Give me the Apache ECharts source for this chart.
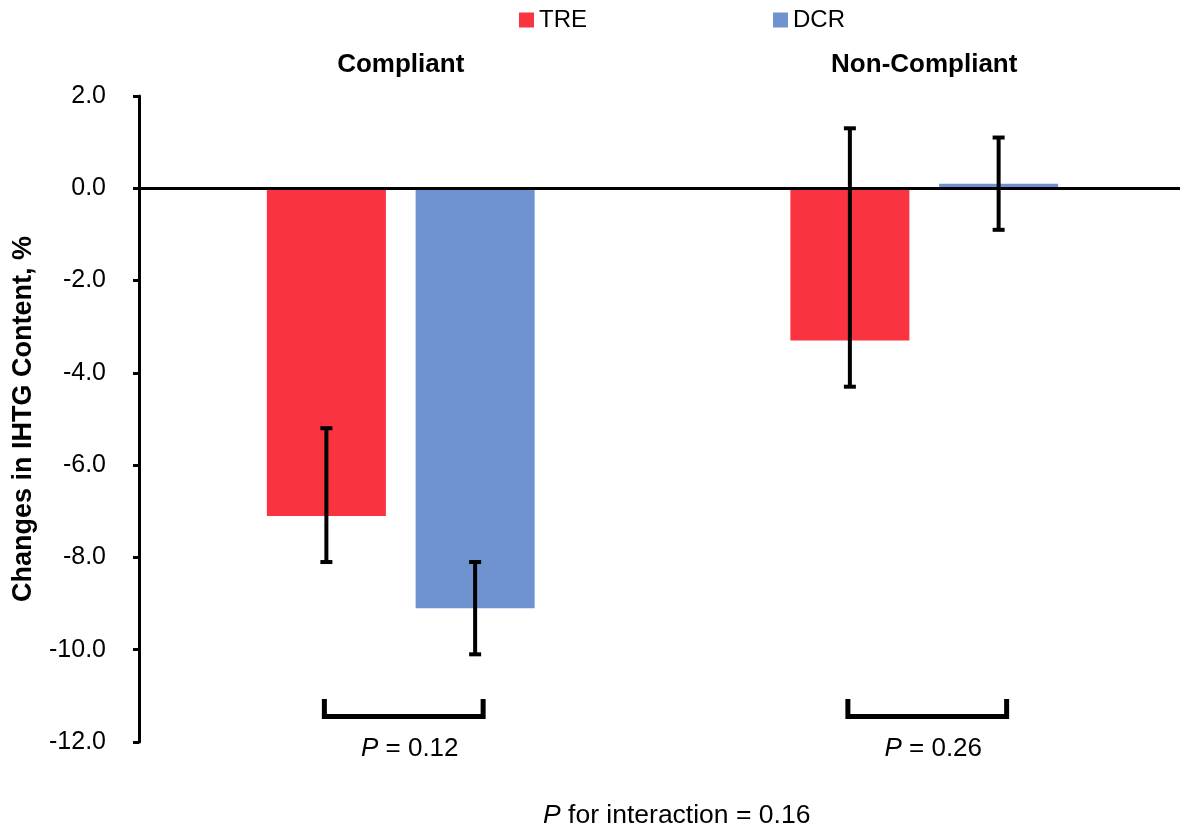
<!DOCTYPE html>
<html><head><meta charset="utf-8">
<script src="https://cdn.jsdelivr.net/npm/echarts@6/dist/echarts.min.js"></script>
<style>html,body{margin:0;padding:0;background:#fff;overflow:hidden}#c{width:1190px;height:831px}</style>
</head><body><div id="c"></div>
<script>
// ---- data ----
const categories = ['Compliant', 'Non-Compliant'];
const seriesNames = ['TRE', 'DCR'];
const treMean = [-7.1, -3.3];
const treLow  = [-8.1, -4.3];
const treHigh = [-5.2, 1.3];
const dcrMean = [-9.1, 0.1];
const dcrLow  = [-10.1, -0.9];
const dcrHigh = [-8.1, 1.1];
const yMin = -12, yMax = 2, yStep = 2;
const pValues = ['0.12', '0.26'];
const bracketLevel = [-11.45, -11.45];
const bracketTickTop = [-11.07, -11.07];
const interactionP = '0.16';

// ---- style ----
const FONT = "'Liberation Sans', Arial, Helvetica, sans-serif";
const RED = '#F9333F';
const BLUE = '#6F93D1';
const BAR_W = 119;
const BAR_GAP = 0.25;
const OFF = BAR_W * (1 + BAR_GAP) / 2;

const chart = echarts.init(document.getElementById('c'), null, {renderer: 'canvas'});

function errRender(sign) {
  return function (params, api) {
    const idx = api.value(0);
    const lo = api.coord([idx, api.value(1)]);
    const hi = api.coord([idx, api.value(2)]);
    const x = lo[0] + sign * OFF;
    const cap = 6;
    const st = {stroke: '#000', lineWidth: 4};
    return {type: 'group', children: [
      {type: 'line', shape: {x1: x, y1: lo[1], x2: x, y2: hi[1]}, style: st},
      {type: 'line', shape: {x1: x - cap, y1: lo[1], x2: x + cap, y2: lo[1]}, style: st},
      {type: 'line', shape: {x1: x - cap, y1: hi[1], x2: x + cap, y2: hi[1]}, style: st}
    ]};
  };
}

function bracketRender(params, api) {
  const idx = api.value(0);
  const base = api.coord([idx, api.value(1)]);
  const top = api.coord([idx, api.value(2)]);
  const x1 = base[0] - OFF - 2;
  const x2 = base[0] + OFF + 8;
  return {type: 'group', children: [
    {type: 'polyline', shape: {points: [[x1, top[1]], [x1, base[1]], [x2, base[1]], [x2, top[1]]]},
     style: {stroke: '#000', lineWidth: 5, fill: null, lineJoin: 'miter'}},
    {type: 'text', x: (x1 + x2) / 2 + 6, y: base[1] + 32,
     style: {text: '{i|P} = ' + pValues[params.dataIndex], align: 'center', verticalAlign: 'middle',
       fill: '#000', font: '26px ' + FONT,
       rich: {i: {fontStyle: 'italic', fontSize: 26, fontFamily: FONT, fill: '#000'}}}}
  ]};
}

const option = {
  backgroundColor: '#fff',
  animation: false,
  textStyle: {fontFamily: FONT, color: '#000'},
  legend: {
    data: seriesNames, left: 514, top: 3, icon: 'rect', itemWidth: 15, itemHeight: 15, itemGap: 186,
    textStyle: {fontSize: 24, color: '#000', fontFamily: FONT}
  },
  grid: {left: 139, top: 96, right: 4, height: 646},
  xAxis: {
    type: 'category', data: categories, position: 'top',
    axisLine: {show: false}, axisTick: {show: false},
    axisLabel: {fontSize: 26, fontWeight: 'bold', color: '#000', margin: 18, fontFamily: FONT}
  },
  yAxis: {
    type: 'value', min: yMin, max: yMax, interval: yStep,
    name: 'Changes in IHTG Content, %', nameLocation: 'middle', nameGap: 102,
    nameTextStyle: {fontSize: 27, fontWeight: 'bold', color: '#000', fontFamily: FONT},
    axisLine: {show: true, lineStyle: {color: '#000', width: 3}},
    axisTick: {show: true, length: 6, lineStyle: {color: '#000', width: 3}},
    splitLine: {show: false},
    axisLabel: {fontSize: 25, color: '#000', margin: 33, fontFamily: FONT, formatter: v => v.toFixed(1)}
  },
  series: [
    {name: 'TRE', type: 'bar', data: treMean, barWidth: BAR_W, barGap: (BAR_GAP * 100) + '%',
     itemStyle: {color: RED}, z: 2,
     markLine: {silent: true, symbol: 'none', label: {show: false}, lineStyle: {color: '#000', width: 3, type: 'solid'},
       data: [{yAxis: 0}], z: 3}},
    {name: 'DCR', type: 'bar', data: dcrMean, barWidth: BAR_W, itemStyle: {color: BLUE}, z: 2},
    {type: 'custom', renderItem: errRender(-1), z: 5, silent: true,
     data: categories.map((c, i) => [i, treLow[i], treHigh[i]])},
    {type: 'custom', renderItem: errRender(1), z: 5, silent: true,
     data: categories.map((c, i) => [i, dcrLow[i], dcrHigh[i]])},
    {type: 'custom', renderItem: bracketRender, z: 5, silent: true, clip: false,
     data: categories.map((c, i) => [i, bracketLevel[i], bracketTickTop[i]])}
  ],
  graphic: [{
    type: 'text', left: 543, top: 802,
    style: {text: '{i|P} for interaction = ' + interactionP, font: '26.5px ' + FONT, fill: '#000',
      rich: {i: {fontStyle: 'italic', fontSize: 26.5, fontFamily: FONT, fill: '#000'}}}
  }]
};
chart.setOption(option);
</script></body></html>
